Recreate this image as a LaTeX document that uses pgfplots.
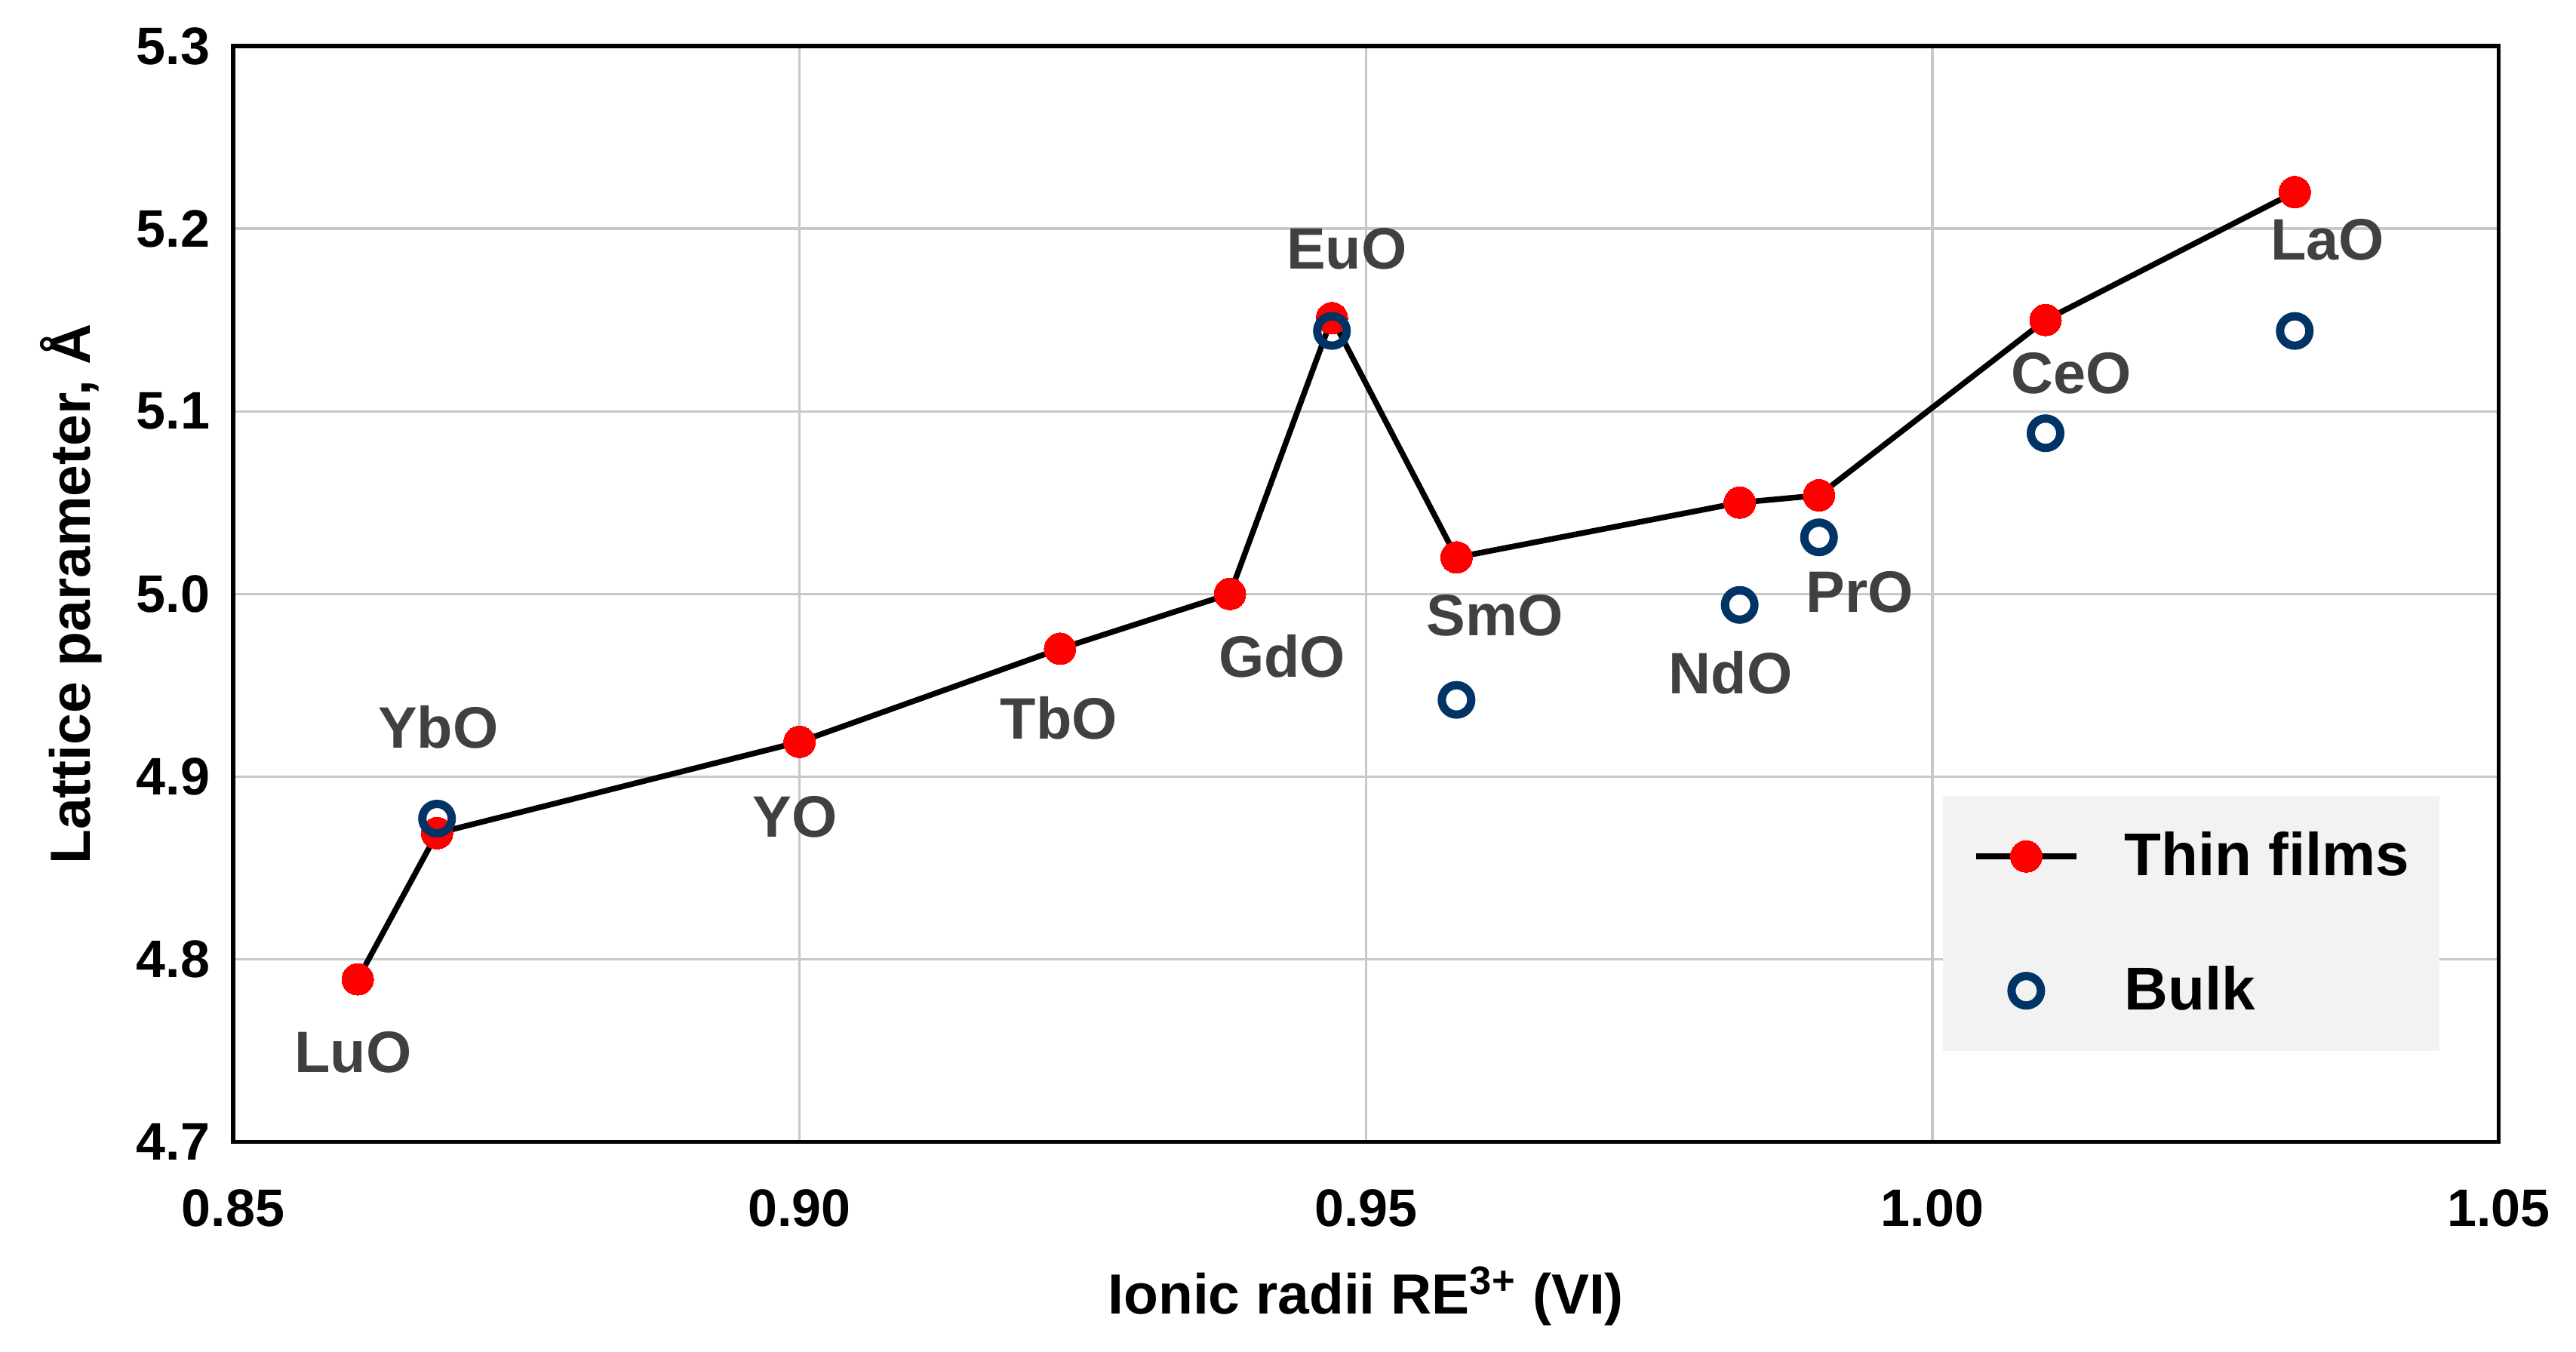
\documentclass[border=0pt]{standalone}
\usepackage{fontspec}
\setmainfont{Liberation Sans}
\usepackage{pgfplots}
\pgfplotsset{compat=1.18}
\definecolor{navyring}{RGB}{0,51,102}
\definecolor{labelgray}{RGB}{64,64,64}
\definecolor{legendgray}{RGB}{242,242,242}
\definecolor{gridgray}{RGB}{200,200,200}
\begin{document}
\begin{tikzpicture}[font=\bfseries]
\begin{axis}[
  scale only axis,
  width=600.5pt, height=290.5pt,
  xmin=0.85, xmax=1.05, ymin=4.7, ymax=5.3,
  xtick={0.85,0.90,0.95,1.00,1.05},
  ytick={4.7,4.8,4.9,5.0,5.1,5.2,5.3},
  major tick length=0pt,
  grid=major,
  major grid style={gridgray, line width=0.65pt},
  axis line style={black, line width=1.1pt},
  clip=false,
  /pgf/number format/assume math mode=true,
  ticklabel style={font=\fontsize{14}{16}\selectfont\bfseries},
  xticklabel style={/pgf/number format/fixed, /pgf/number format/fixed zerofill, /pgf/number format/precision=2,
    inner sep=0pt, anchor=north, yshift=-12.5pt},
  yticklabel style={/pgf/number format/fixed, /pgf/number format/fixed zerofill, /pgf/number format/precision=1,
    inner sep=0pt, anchor=east, xshift=-6pt},
  xlabel={Ionic radii RE\textsuperscript{3+} (VI)},
  ylabel={Lattice parameter, Å},
  label style={font=\fontsize{15}{18}\selectfont\bfseries},
  xlabel style={at={(axis description cs:0.5,-0.1573)}, anchor=base, inner sep=0pt},
  ylabel style={at={(axis description cs:-0.0630,0.5)}, anchor=base, inner sep=0pt},
  legend image code/.code={\draw[mark repeat=2, mark phase=2, #1] plot coordinates {(0pt,0pt) (13.25pt,0pt) (26.5pt,0pt)};},
  legend style={at={(0.7545,0.082)}, anchor=south west, fill=legendgray, draw=none,
    font=\fontsize{16}{19}\selectfont\bfseries,
    inner xsep=8pt, inner ysep=9.5pt, row sep=22.5pt, column sep=12pt,
    nodes={inner sep=0pt}},
  legend cell align=left,
]
\addplot[black, line width=1.5pt, mark=*, mark size=4.2pt, mark options={draw=red, fill=red, line width=0pt}]
coordinates {
(0.861,4.789) (0.868,4.869) (0.900,4.919) (0.923,4.970) (0.938,5.000)
(0.947,5.151) (0.958,5.020) (0.983,5.050) (0.990,5.054) (1.010,5.150) (1.032,5.220)
};
\addlegendentry{Thin films}
\addplot[only marks, mark=o, mark size=3.9pt, mark options={draw=navyring, line width=2.2pt}]
coordinates {
(0.868,4.877) (0.947,5.144) (0.958,4.942) (0.983,4.994) (0.990,5.031) (1.010,5.088) (1.032,5.144)
};
\addlegendentry{Bulk}
\begin{scope}[every node/.style={font=\fontsize{15.5}{18}\selectfont\bfseries, text=labelgray, inner sep=0pt}]
\node at (axis cs:0.8606,4.749) {LuO};
\node at (axis cs:0.8681,4.927) {YbO};
\node at (axis cs:0.8996,4.878) {YO};
\node at (axis cs:0.9229,4.932) {TbO};
\node at (axis cs:0.9426,4.966) {GdO};
\node at (axis cs:0.9483,5.189) {EuO};
\node at (axis cs:0.9614,4.988) {SmO};
\node at (axis cs:0.9822,4.957) {NdO};
\node at (axis cs:0.9936,5.001) {PrO};
\node at (axis cs:1.0123,5.121) {CeO};
\node at (axis cs:1.0349,5.194) {LaO};
\end{scope}
\end{axis}
\pgfresetboundingbox
\useasboundingbox ([xshift=-61.8pt,yshift=-55.7pt]current axis.south west) rectangle ([xshift=20.5pt,yshift=12.2pt]current axis.north east);
\end{tikzpicture}
\end{document}
